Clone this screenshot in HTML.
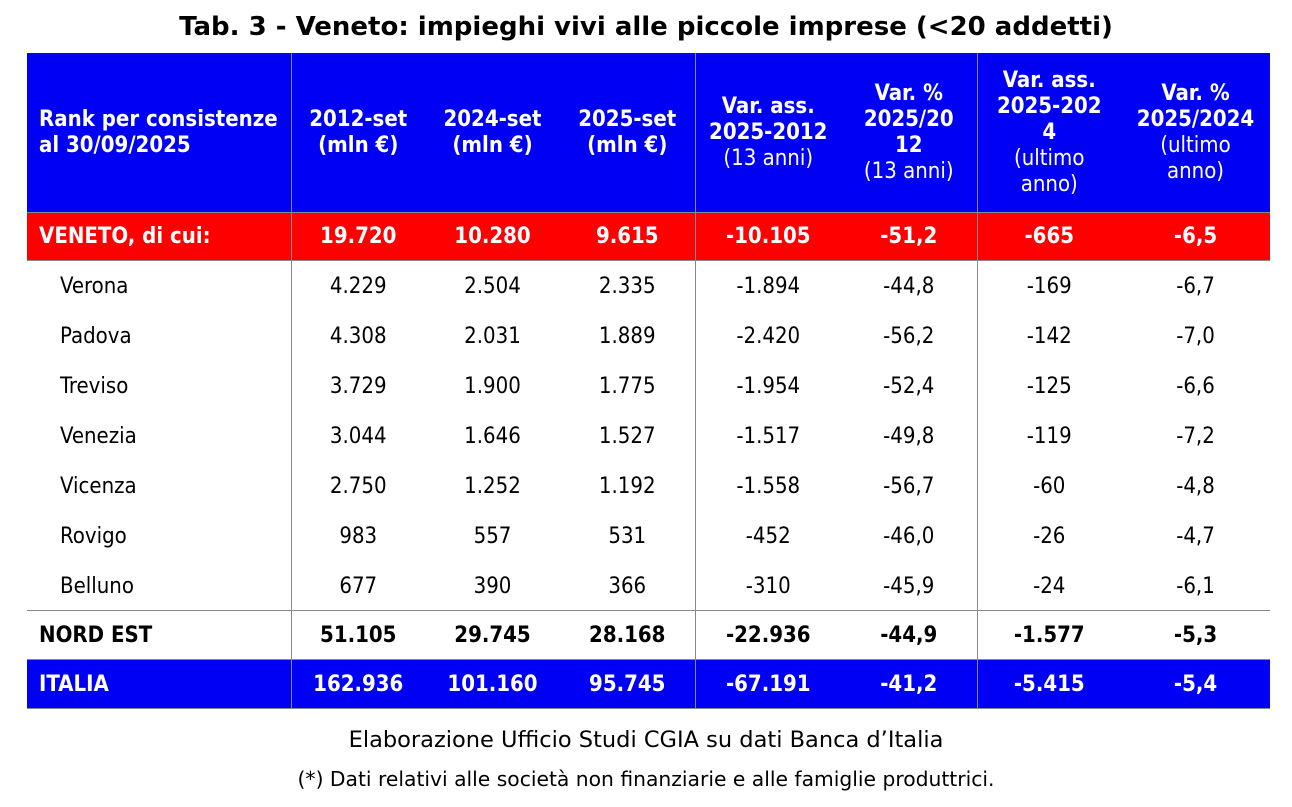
<!DOCTYPE html>
<html><head><meta charset="utf-8"><style>
body{margin:0;width:1292px;height:807px;background:#fff;font-family:"DejaVu Sans Condensed","DejaVu Sans","Liberation Sans",sans-serif;position:relative;overflow:hidden}
.title{position:absolute;top:12px;left:0;width:1292px;text-align:center;font:bold 26px "DejaVu Sans",sans-serif;color:#000}
table{position:absolute;left:27px;top:53px;border-collapse:collapse;table-layout:fixed;width:1243px}
td{padding:0;text-align:center;font-size:22px;color:#000}
tr.h td{height:159px;background:#0000f5;color:#fff;font-weight:bold;line-height:26px;vertical-align:middle}
tr.h td .n{font-weight:normal}
tr.r td{height:47px;background:#ff0000;color:#fff;font-weight:bold;border-top:1px solid #888}
tr.d td{height:50px;padding-top:2px;height:48px}
tr.d1 td{border-top:1px solid #888;height:47px}
tr.ne td{height:48px;font-weight:bold;border-top:1px solid #888}
tr.it td{height:48px;background:#0000f5;color:#fff;font-weight:bold;border-top:1px solid #888;border-bottom:1px solid #888}
td.l{text-align:left;padding-left:12px}
tr.d td.l{padding-left:33px}
.v{border-left:1px solid #888}
.f1{position:absolute;top:727px;width:1292px;text-align:center;font:22.5px "DejaVu Sans",sans-serif}
.f2{position:absolute;top:767px;width:1292px;text-align:center;font:20.3px "DejaVu Sans",sans-serif}
</style></head><body>
<div class="title">Tab. 3 - Veneto: impieghi vivi alle piccole imprese (&lt;20 addetti)</div>
<table>
<colgroup><col style="width:264px"><col style="width:134px"><col style="width:135px"><col style="width:135px"><col style="width:146px"><col style="width:136px"><col style="width:144px"><col style="width:149px"></colgroup>
<tr class="h"><td class="l">Rank per consistenze<br>al 30/09/2025</td><td class="v">2012-set<br>(mln €)</td><td>2024-set<br>(mln €)</td><td>2025-set<br>(mln €)</td><td class="v">Var. ass.<br>2025-2012<br><span class="n">(13 anni)</span></td><td>Var. %<br>2025/20<br>12<br><span class="n">(13 anni)</span></td><td class="v">Var. ass.<br>2025-202<br>4<br><span class="n">(ultimo<br>anno)</span></td><td>Var. %<br>2025/2024<br><span class="n">(ultimo<br>anno)</span></td></tr>
<tr class="r"><td class="l">VENETO, di cui:</td><td class="v">19.720</td><td>10.280</td><td>9.615</td><td class="v">-10.105</td><td>-51,2</td><td class="v">-665</td><td>-6,5</td></tr>
<tr class="d d1"><td class="l">Verona</td><td class="v">4.229</td><td>2.504</td><td>2.335</td><td class="v">-1.894</td><td>-44,8</td><td class="v">-169</td><td>-6,7</td></tr>
<tr class="d"><td class="l">Padova</td><td class="v">4.308</td><td>2.031</td><td>1.889</td><td class="v">-2.420</td><td>-56,2</td><td class="v">-142</td><td>-7,0</td></tr>
<tr class="d"><td class="l">Treviso</td><td class="v">3.729</td><td>1.900</td><td>1.775</td><td class="v">-1.954</td><td>-52,4</td><td class="v">-125</td><td>-6,6</td></tr>
<tr class="d"><td class="l">Venezia</td><td class="v">3.044</td><td>1.646</td><td>1.527</td><td class="v">-1.517</td><td>-49,8</td><td class="v">-119</td><td>-7,2</td></tr>
<tr class="d"><td class="l">Vicenza</td><td class="v">2.750</td><td>1.252</td><td>1.192</td><td class="v">-1.558</td><td>-56,7</td><td class="v">-60</td><td>-4,8</td></tr>
<tr class="d"><td class="l">Rovigo</td><td class="v">983</td><td>557</td><td>531</td><td class="v">-452</td><td>-46,0</td><td class="v">-26</td><td>-4,7</td></tr>
<tr class="d"><td class="l">Belluno</td><td class="v">677</td><td>390</td><td>366</td><td class="v">-310</td><td>-45,9</td><td class="v">-24</td><td>-6,1</td></tr>
<tr class="ne"><td class="l">NORD EST</td><td class="v">51.105</td><td>29.745</td><td>28.168</td><td class="v">-22.936</td><td>-44,9</td><td class="v">-1.577</td><td>-5,3</td></tr>
<tr class="it"><td class="l">ITALIA</td><td class="v">162.936</td><td>101.160</td><td>95.745</td><td class="v">-67.191</td><td>-41,2</td><td class="v">-5.415</td><td>-5,4</td></tr>
</table>
<div class="f1">Elaborazione Ufficio Studi CGIA su dati Banca d’Italia</div>
<div class="f2">(*) Dati relativi alle società non finanziarie e alle famiglie produttrici.</div>
</body></html>
